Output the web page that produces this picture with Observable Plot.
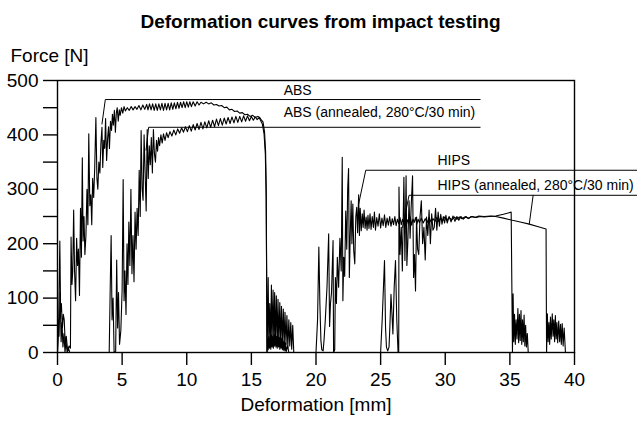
<!DOCTYPE html>
<html>
<head>
<meta charset="utf-8">
<script src="https://cdn.jsdelivr.net/npm/d3@7"></script>
<script src="https://cdn.jsdelivr.net/npm/@observablehq/plot@0.6"></script>
<style>
  html, body { margin: 0; padding: 0; background: #fff; }
  #title { height: 36px; box-sizing: border-box; padding-top: 11px; padding-left: 4px; line-height: 22px;
           font: bold 19px "Liberation Sans", Arial, sans-serif; text-align: center; color: #000; }
</style>
</head>
<body>
<div id="title">Deformation curves from impact testing</div>
<div id="chart"></div>
<script>
// ---- Data: [deformation mm, force N] ----
const ABS = [
[0,0],[0.08,40],[0.18,205],[0.24,75],[0.3,90],[0.38,45],[0.45,70],[0.52,60],[0.6,15],[0.68,30],[0.78,4],[0.9,12],[1.0,8],
[1.05,212],[1.12,125],[1.18,150],[1.25,262],[1.32,150],[1.4,95],[1.48,210],[1.55,160],[1.62,190],[1.7,105],[1.78,265],
[1.85,175],[1.92,358],[1.98,205],[2.05,250],[2.12,180],[2.2,215],[2.28,300],[2.35,235],[2.42,402],[2.5,270],[2.58,290],
[2.65,235],[2.72,320],[2.8,285],[2.88,340],[2.97,432],[3.05,320],[3.12,300],[3.2,350],[3.28,330],[3.36,385],[3.44,414],
[3.5,340],[3.58,390],[3.65,375],[3.72,430],[3.8,353],[3.88,395],[3.95,415],[4.02,375],[4.1,425],[4.18,408],[4.25,438],
[4.32,418],[4.4,445],[4.48,405],[4.55,440],[4.62,450],[4.7,425],[4.78,446],[4.85,436],[4.95,450],[5.05,440],[5.15,452],
[5.25,444],[5.4,450],[5.55,445],[5.7,452],[5.85,446],[6.0,452],[6.15,447],[6.3,454],[6.45,446],[6.6,455],[6.75,447],
[6.9,456],[7.0,446],[7.12,457],[7.24,446],[7.36,457],[7.48,445],[7.6,457],[7.72,445],[7.84,457],[7.96,446],[8.08,458],
[8.2,445],[8.32,458],[8.44,446],[8.56,458],[8.68,446],[8.8,459],[8.92,447],[9.04,459],[9.16,448],[9.28,460],[9.4,449],
[9.52,460],[9.64,450],[9.76,461],[9.88,450],[10.0,461],[10.12,451],[10.24,461],[10.36,452],[10.5,461],[10.65,453],
[10.8,461],[10.95,455],[11.1,460],[11.3,457],[11.5,460],[11.7,457],[11.9,459],[12.1,455],[12.3,456],[12.5,453],[12.7,454],
[12.9,450],[13.1,451],[13.3,446],[13.5,447],[13.7,443],[13.9,444],[14.1,440],[14.3,441],[14.5,437],[14.7,438],[14.9,434],
[15.1,436],[15.3,432],[15.5,434],[15.65,432],[15.75,428],[15.9,424],[16.02,405],[16.1,370],[16.15,300],[16.18,150],[16.2,0],
[16.25,25],[16.3,5],[16.35,30],[16.4,8],[16.45,28],[16.5,6],[16.55,32],[16.6,10],[16.65,30],[16.7,8],[16.75,33],[16.8,12],
[16.85,35],[16.9,10],[16.95,30],[17.0,8],[17.05,32],[17.1,10],[17.15,28],[17.2,6],[17.25,30],[17.3,8],[17.35,26],[17.4,5],
[17.45,22],[17.5,4],[17.55,20],[17.6,3],[17.65,18],[17.7,2],[17.8,12],[17.9,0]
];
const ABS_annealed = [
[0,0],[0.05,60],[0.12,30],[0.2,110],[0.28,20],[0.35,55],[0.42,10],[0.5,35],[0.58,0],[0.66,20],[0.75,0],[0.85,8],[0.95,0],
[1.25,0],[4.0,0],[4.08,120],[4.15,215],[4.22,60],[4.3,100],[4.38,0],[4.5,2],[4.58,170],[4.65,45],[4.72,110],[4.8,15],
[4.9,40],[5.0,115],[5.08,318],[5.15,95],[5.22,150],[5.3,70],[5.38,200],[5.45,125],[5.52,240],[5.6,160],[5.68,300],
[5.76,145],[5.84,215],[5.92,130],[6.0,258],[6.08,190],[6.16,265],[6.24,215],[6.32,335],[6.4,250],[6.47,408],[6.55,300],
[6.62,280],[6.7,400],[6.78,330],[6.86,260],[6.94,410],[7.02,320],[7.1,380],[7.18,345],[7.26,395],[7.34,330],[7.42,410],
[7.5,365],[7.58,350],[7.66,390],[7.74,370],[7.82,395],[7.9,380],[8.0,400],[8.1,385],[8.2,402],[8.32,390],[8.44,404],
[8.56,395],[8.7,406],[8.85,398],[9.0,409],[9.15,400],[9.3,411],[9.45,403],[9.6,413],[9.75,405],[9.9,415],[10.05,406],
[10.2,417],[10.35,407],[10.5,419],[10.65,409],[10.8,421],[10.95,410],[11.1,423],[11.25,411],[11.4,424],[11.55,413],
[11.7,426],[11.85,414],[12.0,427],[12.15,415],[12.3,429],[12.45,417],[12.6,430],[12.75,418],[12.9,431],[13.05,420],
[13.2,432],[13.35,421],[13.5,433],[13.65,422],[13.8,434],[13.95,423],[14.1,434],[14.25,424],[14.4,435],[14.55,425],
[14.7,435],[14.85,426],[15.0,434],[15.15,427],[15.3,433],[15.45,428],[15.6,432],[15.72,426],[15.85,420],[15.98,402],
[16.08,365],[16.14,290],[16.18,140],[16.22,0],
[16.3,138],[16.35,15],[16.42,90],[16.48,10],[16.55,124],[16.6,20],[16.68,115],[16.74,12],[16.8,110],[16.86,18],[16.93,104],
[17.0,15],[17.06,98],[17.12,20],[17.2,92],[17.26,12],[17.33,85],[17.4,18],[17.47,80],[17.54,10],[17.6,74],[17.68,15],
[17.75,68],[17.82,8],[17.9,60],[17.97,12],[18.05,55],[18.12,6],[18.2,50],[18.28,0]
];
const HIPS = [
[20.0,0],[20.12,60],[20.22,194],[20.3,90],[20.38,22],[20.45,5],[20.55,3],[20.62,22],[20.72,60],[20.85,120],[20.98,218],
[21.05,48],[21.12,90],[21.2,110],[21.32,206],[21.36,0],[21.45,5],[21.5,138],[21.58,90],[21.65,175],[21.75,120],[21.85,210],
[21.95,150],[22.03,359],[22.08,95],[22.15,175],[22.22,140],[22.3,260],[22.38,190],[22.45,300],[22.52,338],[22.58,138],
[22.65,218],[22.72,279],[22.78,200],[22.85,273],[22.92,187],[23.0,163],[23.08,250],[23.15,267],[23.22,220],[23.3,290],
[23.36,215],[23.42,265],[23.5,224],[23.58,255],[23.65,230],[23.72,262],[23.8,228],[23.88,249],[23.95,225],[24.02,252],
[24.1,228],[24.18,255],[24.26,226],[24.35,250],[24.44,230],[24.52,258],[24.6,225],[24.7,248],[24.8,232],[24.9,255],
[25.0,229],[25.1,247],[25.2,233],[25.3,253],[25.4,230],[25.5,247],[25.6,234],[25.7,250],[25.8,232],[25.9,246],[26.0,235],
[26.1,250],[26.2,233],[26.3,245],[26.4,237],[26.5,248],[26.6,235],[26.7,245],[26.8,237],[26.9,249],[27.0,235],[27.1,244],
[27.2,238],[27.3,249],[27.4,234],[27.5,245],[27.6,239],[27.7,248],[27.8,236],[27.9,245],[28.0,239],[28.15,247],[28.3,238],
[28.45,246],[28.6,239],[28.75,248],[28.9,240],[29.05,246],[29.2,241],[29.35,248],[29.5,241],[29.65,247],[29.8,242],
[29.95,249],[30.1,243],[30.3,248],[30.5,244],[30.7,249],[30.9,245],[31.1,249],[31.3,246],[31.5,249],[31.8,247],[32.1,250],
[32.4,248],[32.7,250],[33.0,249],[33.4,250],[33.9,251],[34.5,254],[35.1,258],[35.15,130],[35.2,0],
[35.25,108],[35.3,20],[35.36,70],[35.42,15],[35.48,60],[35.55,25],[35.62,81],[35.68,18],[35.74,70],[35.8,22],[35.86,77],
[35.92,15],[35.98,60],[36.04,20],[36.1,69],[36.16,12],[36.22,50],[36.28,10],[36.35,35],[36.42,0]
];
const HIPS_annealed = [
[25.0,0],[25.12,60],[25.3,169],[25.38,46],[25.45,10],[25.55,3],[25.65,10],[25.72,50],[25.8,107],[25.88,70],[25.95,34],
[26.05,120],[26.15,169],[26.25,60],[26.35,0],[26.4,0],[26.42,304],[26.5,180],[26.6,230],[26.68,150],[26.8,322],[26.88,169],
[26.97,325],[27.03,160],[27.1,200],[27.2,279],[27.28,210],[27.35,260],[27.47,325],[27.55,138],[27.62,180],[27.7,113],
[27.78,249],[27.86,190],[27.95,180],[28.05,250],[28.15,279],[28.25,200],[28.35,230],[28.45,170],[28.55,249],[28.65,215],
[28.75,262],[28.85,200],[28.95,255],[29.05,225],[29.15,230],[29.25,265],[29.35,225],[29.45,258],[29.55,232],[29.65,254],
[29.75,236],[29.85,250],[29.95,238],[30.05,252],[30.15,238],[30.3,250],[30.45,240],[30.6,251],[30.75,241],[30.9,250],
[31.05,243],[31.2,250],[31.4,245],[31.6,250],[31.8,246],[32.0,250],[32.3,248],[32.6,251],[33.0,250],[33.5,251],[33.9,250],
[34.5,247],[35.2,243],[35.8,240],[36.5,236],[37.2,231],[37.8,227],[37.82,100],[37.84,0],
[37.9,71],[37.96,20],[38.02,55],[38.08,15],[38.14,65],[38.2,25],[38.28,71],[38.34,30],[38.4,60],[38.46,20],[38.52,68],
[38.58,25],[38.64,55],[38.7,18],[38.78,58],[38.85,20],[38.92,52],[38.98,15],[39.05,53],[39.12,12],[39.2,45],[39.3,0]
];

// ---- Labels and their leader lines (data units) ----
const labelNames = ["ABS", "ABS (annealed, 280°C/30 min)", "HIPS", "HIPS (annealed, 280°C/30 min)"];
const labelX = [17.5, 17.5, 29.4, 29.4];
const labelY = [481, 441, 353, 307];
const leaderABS = [[3.44,420],[3.7,465],[32.7,465]];
const leaderABSAnn = [[6.85,372],[7.05,414],[32.7,414]];
const leaderHIPS = [[23.3,273],[23.85,335],[44.9,335]];
const leaderHIPSAnn = [[26.7,230],[27.2,289],[44.9,289]];
const leaderHIPSAnn2 = [[36.8,289],[36.5,236]];

// ---- Axis ticks ----
const xTicks = [0, 5, 10, 15, 20, 25, 30, 35, 40];
const yTicks = [0, 50, 100, 150, 200, 250, 300, 350, 400, 450, 500];
const yTickLabels = [0, 100, 200, 300, 400, 500];

// ---- Build tables ----
const series = {ABS, ABS_annealed, HIPS, HIPS_annealed};
const curveRows = Object.entries(series).flatMap(([name, pts]) => pts.map(([x, y]) => ({series: name, x, y})));
const leaders = {leaderABS, leaderABSAnn, leaderHIPS, leaderHIPSAnn, leaderHIPSAnn2};
const leaderRows = Object.entries(leaders).flatMap(([id, pts]) => pts.map(([x, y]) => ({id, x, y})));
const labelRows = labelNames.map((t, i) => ({text: t, x: labelX[i], y: labelY[i]}));

const chart = Plot.plot({
  width: 637,
  height: 385,
  marginTop: 44,
  marginBottom: 69,
  marginLeft: 57,
  marginRight: 63,
  x: {domain: [0, 40]},
  y: {domain: [0, 500]},
  style: {fontFamily: "'Liberation Sans', Arial, sans-serif", fontSize: "19px", color: "#000", background: "#fff", overflow: "visible"},
  marks: [
    Plot.frame({stroke: "#000", strokeWidth: 1.4}),
    Plot.axisX({ticks: xTicks, tickSize: 13, tickPadding: 7, label: null, strokeWidth: 1.4}),
    Plot.axisY({ticks: yTicks, tickSize: 14, tickPadding: 5, label: null, strokeWidth: 1.4,
                tickFormat: d => yTickLabels.includes(d) ? String(d) : ""}),
    Plot.line(curveRows, {x: "x", y: "y", z: "series", stroke: "#000", strokeWidth: 1.1, curve: "linear"}),
    Plot.line(leaderRows, {x: "x", y: "y", z: "id", stroke: "#000", strokeWidth: 1, clip: false}),
    Plot.text(labelRows, {x: "x", y: "y", text: "text", textAnchor: "start", fontSize: 14, fill: "#000"}),
    Plot.text(["Force [N]"], {frameAnchor: "top-left", dx: -47, dy: -32, textAnchor: "start", fontSize: 19, fill: "#000"}),
    Plot.text(["Deformation [mm]"], {frameAnchor: "bottom", dy: 58, fontSize: 19, fill: "#000"})
  ]
});
document.getElementById("chart").appendChild(chart);
</script>
</body>
</html>
